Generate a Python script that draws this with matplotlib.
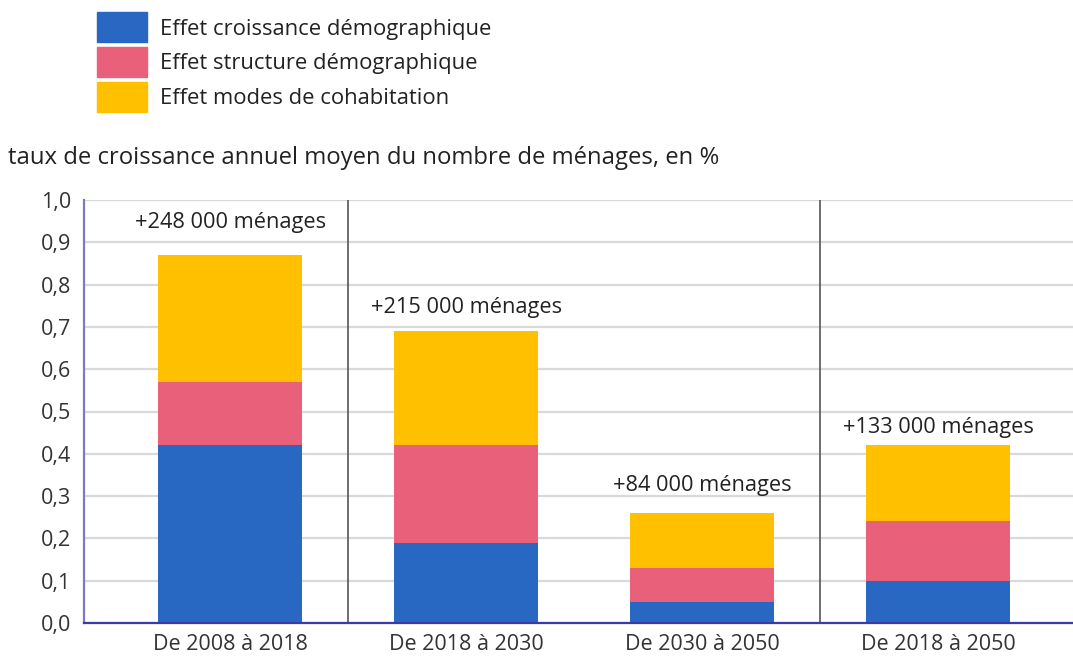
import matplotlib
matplotlib.use("Agg")
import matplotlib.pyplot as plt
from matplotlib.patches import Rectangle

categories = ["De 2008 à 2018", "De 2018 à 2030", "De 2030 à 2050", "De 2018 à 2050"]
series_names = ["Effet croissance démographique", "Effet structure démographique", "Effet modes de cohabitation"]
croissance = [0.42, 0.19, 0.05, 0.10]
structure = [0.15, 0.23, 0.08, 0.14]
cohabitation = [0.30, 0.27, 0.13, 0.18]
bar_labels = ["+248 000 ménages", "+215 000 ménages", "+84 000 ménages", "+133 000 ménages"]
yticks = [0.0, 0.1, 0.2, 0.3, 0.4, 0.5, 0.6, 0.7, 0.8, 0.9, 1.0]
ytick_labels = ["0,0", "0,1", "0,2", "0,3", "0,4", "0,5", "0,6", "0,7", "0,8", "0,9", "1,0"]
title = "taux de croissance annuel moyen du nombre de ménages, en %"

colors = ["#2968c2", "#e9607b", "#ffc000"]
label_offsets = [0.076, 0.055, 0.064, 0.041]

plt.rcParams['font.family'] = ['Open Sans', 'DejaVu Sans']
W, H = 1073, 658
fig = plt.figure(figsize=(W / 100, H / 100), dpi=100)
ax = fig.add_axes([84 / W, 1 - 623 / H, (W - 84) / W, (623 - 200) / H])

x = list(range(len(categories)))
bottom = [0.0] * len(x)
for vals, col in zip([croissance, structure, cohabitation], colors):
    ax.bar(x, vals, width=0.61, bottom=bottom, color=col, zorder=3)
    bottom = [b + v for b, v in zip(bottom, vals)]

for xi, tot, lab, off in zip(x, bottom, bar_labels, label_offsets):
    ax.text(xi, tot + off, lab, ha="center", va="center", fontsize=15.7, color="#222222", zorder=4)

for sep in [0.5, 2.5]:
    ax.axvline(sep, color="#555555", lw=1.2, zorder=4)

ax.set_xlim(-0.62, 3.57)
ax.set_ylim(0, 1.0)
ax.set_yticks(yticks)
ax.set_yticklabels(ytick_labels)
ax.set_xticks(x)
ax.set_xticklabels(categories)
ax.yaxis.grid(True, color="#d9d9d9", lw=1.6, zorder=0)
ax.set_axisbelow(True)
ax.tick_params(axis="both", length=0, labelsize=15.5, colors="#333333")
ax.tick_params(axis="y", pad=9)
ax.tick_params(axis="x", pad=8)
for s in ["top", "right"]:
    ax.spines[s].set_visible(False)
ax.spines["left"].set_color("#7b7bc4")
ax.spines["left"].set_linewidth(1.6)
ax.spines["bottom"].set_color("#3a3aa8")
ax.spines["bottom"].set_linewidth(1.6)
ax.spines["bottom"].set_zorder(5)

# legend
for i, (name, col) in enumerate(zip(series_names, colors)):
    y0 = 12 + 35 * i
    fig.add_artist(Rectangle((97 / W, 1 - (y0 + 30) / H), 50 / W, 30 / H,
                             transform=fig.transFigure, color=col))
    fig.text(160 / W, 1 - (y0 + 17) / H, name, ha="left", va="center",
             fontsize=15.8, color="#222222")

fig.text(8 / W, 1 - 158 / H, title, ha="left", va="center", fontsize=17.2, color="#222222")

fig.savefig("out.png", dpi=100)
